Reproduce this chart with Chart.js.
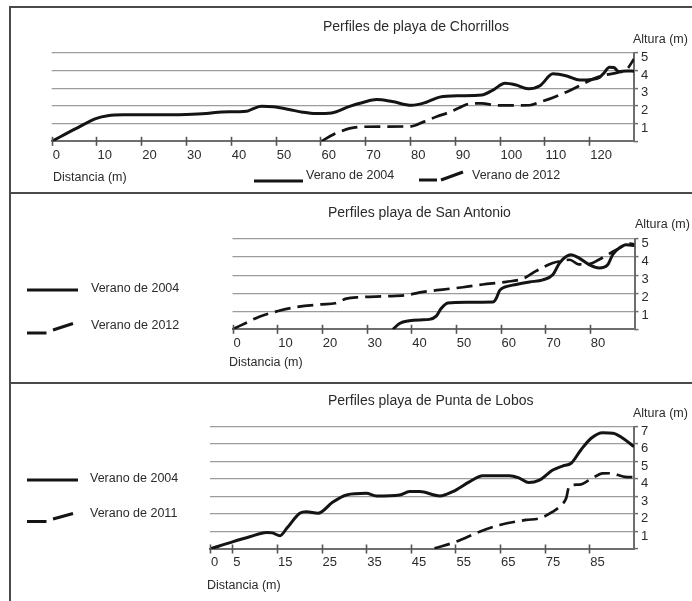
<!DOCTYPE html>
<html>
<head>
<meta charset="utf-8">
<script src="https://cdn.jsdelivr.net/npm/chart.js@4"></script>
<style>
  html, body { margin: 0; padding: 0; background: #fff; }
  body { width: 692px; height: 601px; position: relative; overflow: hidden;
         font-family: "Liberation Sans", Arial, sans-serif; color: #2b2b2b; }
  canvas { position: absolute; left: 0; top: 0; }
  .frame { position: absolute; left: 9px; top: 6px; width: 720px; height: 640px;
           border: 2px solid #4a4a4a; box-sizing: border-box; }
  .rule { position: absolute; left: 9px; width: 700px; height: 2px; background: #4a4a4a; }
  .t { position: absolute; white-space: nowrap; line-height: 16px; font-size: 12.5px; }
  .title { font-size: 14px; }
  svg.keys { position: absolute; left: 0; top: 0; }
</style>
</head>
<body>
<div class="frame"></div>
<div class="rule" style="top:192px"></div>
<div class="rule" style="top:382px"></div>

<canvas id="chorrillos" width="692" height="601"></canvas>
<canvas id="sanAntonio" width="692" height="601"></canvas>
<canvas id="puntaLobos" width="692" height="601"></canvas>

<!-- Chorrillos -->
<div class="t title" style="left:323px;top:18px">Perfiles de playa de Chorrillos</div>
<div class="t" style="left:633px;top:31px">Altura (m)</div>
<div class="t" style="left:53px;top:169px">Distancia (m)</div>
<div class="t" style="left:306px;top:167px">Verano de 2004</div>
<div class="t" style="left:472px;top:167px">Verano de 2012</div>

<!-- San Antonio -->
<div class="t title" style="left:328px;top:204px">Perfiles playa de San Antonio</div>
<div class="t" style="left:635px;top:216px">Altura (m)</div>
<div class="t" style="left:229px;top:354px">Distancia (m)</div>
<div class="t" style="left:91px;top:280px">Verano de 2004</div>
<div class="t" style="left:91px;top:317px">Verano de 2012</div>

<!-- Punta de Lobos -->
<div class="t title" style="left:328px;top:392px">Perfiles playa de Punta de Lobos</div>
<div class="t" style="left:633px;top:405px">Altura (m)</div>
<div class="t" style="left:207px;top:577px">Distancia (m)</div>
<div class="t" style="left:90px;top:470px">Verano de 2004</div>
<div class="t" style="left:90px;top:505px">Verano de 2011</div>

<!-- legend keys -->
<svg class="keys" width="692" height="601">
  <g stroke="#141414" stroke-width="3" fill="none">
    <line x1="254" y1="181" x2="303" y2="181"/>
    <line x1="419" y1="180" x2="437" y2="180"/>
    <line x1="441" y1="180" x2="463" y2="172"/>
    <line x1="27" y1="290" x2="78" y2="290"/>
    <line x1="27" y1="333" x2="46.5" y2="333"/>
    <line x1="53" y1="330" x2="73" y2="323.5"/>
    <line x1="27" y1="480" x2="78" y2="480"/>
    <line x1="27" y1="521.5" x2="46.5" y2="521.5"/>
    <line x1="53" y1="519" x2="73" y2="513.5"/>
  </g>
</svg>

<script>
// ---- Playa de Chorrillos ----
const chorrillosTicksX = [0, 10, 20, 30, 40, 50, 60, 70, 80, 90, 100, 110, 120];
const chorrillosDist2004 = [0, 5.5, 10, 12.5, 16, 22, 30, 34.5, 38, 43.5, 45, 46.8, 49.5, 53, 56, 59, 62.5, 66.5, 69.5, 72.5, 76, 80.3, 83.5, 86.6, 91, 96, 98.5, 101.2, 103.5, 106.4, 109, 111.9, 115, 117.9, 120.5, 122.3, 123.4, 124.5, 125.5, 126.6, 128.3, 130];
const chorrillosAlt2004  = [0, 0.73, 1.3, 1.45, 1.5, 1.5, 1.52, 1.57, 1.66, 1.7, 1.85, 1.98, 1.95, 1.8, 1.65, 1.57, 1.6, 1.98, 2.2, 2.36, 2.25, 2.04, 2.2, 2.5, 2.58, 2.62, 2.9, 3.29, 3.2, 2.98, 3.15, 3.82, 3.7, 3.47, 3.5, 3.62, 3.9, 4.2, 4.18, 3.95, 3.98, 3.97];
const chorrillosDist2012 = [60.2, 63, 64.3, 66.5, 69, 74, 80.3, 83, 86, 88.9, 91, 93.3, 96, 99.3, 103, 106.7, 109, 112, 115.7, 119, 121.5, 123.5, 126.5, 128.3, 130];
const chorrillosAlt2012  = [0, 0.4, 0.54, 0.73, 0.82, 0.83, 0.85, 1.1, 1.4, 1.66, 1.9, 2.13, 2.15, 2.04, 2.03, 2.04, 2.22, 2.48, 2.88, 3.3, 3.6, 3.75, 3.9, 4.05, 4.66];

// ---- Playa de San Antonio ----
const sanAntonioTicksX = [0, 10, 20, 30, 40, 50, 60, 70, 80];
const sanAntonioDist2004 = [35.9, 37.4, 39.6, 42, 44.1, 45.6, 46.7, 48.2, 52.3, 58.3, 59, 59.8, 60.9, 63.5, 66.5, 69.5, 71.7, 73.2, 74.7, 75.8, 77.6, 79.9, 82.1, 84, 85.1, 86.6, 88.1, 90];
const sanAntonioAlt2004  = [0, 0.32, 0.47, 0.52, 0.55, 0.73, 1.15, 1.46, 1.5, 1.51, 1.69, 2.15, 2.33, 2.48, 2.62, 2.74, 3.02, 3.67, 4.03, 4.13, 3.94, 3.57, 3.39, 3.57, 4.13, 4.5, 4.68, 4.64];
const sanAntonioDist2012 = [0, 3, 6, 10, 14, 20, 23, 25.5, 28.5, 34.5, 38.9, 42.7, 47, 51.6, 56, 61.3, 65, 67.9, 71.7, 73.5, 75.5, 77.5, 80, 82, 84.5, 87, 89, 90];
const sanAntonioAlt2012  = [0, 0.35, 0.7, 1.0, 1.22, 1.38, 1.44, 1.7, 1.78, 1.83, 1.89, 2.07, 2.2, 2.33, 2.48, 2.63, 2.8, 3.22, 3.67, 3.78, 3.85, 3.6, 3.62, 3.85, 4.2, 4.55, 4.75, 4.7];

// ---- Playa de Punta de Lobos ----
const puntaLobosTicksX = [0, 5, 15, 25, 35, 45, 55, 65, 75, 85];
const puntaLobosDist2004 = [0, 5.2, 8.9, 12.7, 14, 15.7, 17.2, 20.1, 21.6, 24.2, 27.6, 30.6, 35, 37.3, 42.5, 44.7, 47, 51.5, 54.4, 58.2, 61.1, 67.1, 69.4, 71.4, 73.8, 76.8, 79, 80.9, 83.1, 85.4, 88, 90.3, 92.5, 95];
const puntaLobosAlt2004  = [0, 0.42, 0.7, 0.95, 0.92, 0.76, 1.18, 2.04, 2.13, 2.04, 2.7, 3.09, 3.18, 3.03, 3.09, 3.28, 3.28, 3.03, 3.28, 3.85, 4.19, 4.19, 4.04, 3.8, 3.94, 4.51, 4.74, 4.9, 5.66, 6.33, 6.65, 6.62, 6.33, 5.85];
const puntaLobosDist2011 = [50.3, 55.2, 60.4, 64.9, 70.8, 73.8, 76.8, 78.7, 79.8, 80.5, 82.8, 85, 88, 89.9, 91.4, 93, 95];
const puntaLobosAlt2011  = [0.04, 0.42, 0.99, 1.37, 1.66, 1.75, 2.13, 2.51, 2.9, 3.6, 3.68, 3.94, 4.32, 4.33, 4.23, 4.12, 4.1];

Chart.defaults.font.family = '"Liberation Sans", Arial, sans-serif';
Chart.defaults.color = '#2b2b2b';

const CANVAS_W = 692, CANVAS_H = 601;
const X_AXIS_H = 30, Y_AXIS_W = 30;
const INK = '#141414', AXIS = '#6e6e6e', GRID = '#9c9c9c';

const toPoints = (xs, ys) => xs.map((x, i) => ({ x: x, y: ys[i] }));
const range = n => Array.from({ length: n + 1 }, (_, i) => i);

// tick marks on the distance axis cross the axis line
const crossTicks = {
  id: 'crossTicks',
  afterDraw(chart) {
    const xs = chart.scales.x, ctx = chart.ctx, y0 = chart.chartArea.bottom;
    ctx.save();
    ctx.strokeStyle = '#555';
    ctx.lineWidth = 1.6;
    xs.ticks.forEach(t => {
      const px = Math.round(xs.getPixelForValue(t.value)) + 0.5;
      ctx.beginPath();
      ctx.moveTo(px, y0 - 4.5);
      ctx.lineTo(px, y0 + 4.5);
      ctx.stroke();
    });
    ctx.restore();
  }
};

function profileChart(id, box, xMax, xTicks, yMax, solid, dashed) {
  const yTicks = range(yMax);
  return new Chart(document.getElementById(id), {
    type: 'line',
    data: {
      datasets: [
        { label: solid.label, data: toPoints(solid.dist, solid.alt),
          borderColor: INK, borderWidth: 3 },
        { label: dashed.label, data: toPoints(dashed.dist, dashed.alt),
          borderColor: INK, borderWidth: 2.7, borderDash: [16, 7] }
      ]
    },
    options: {
      responsive: false,
      animation: false,
      events: [],
      layout: { padding: {
        left: box.left, top: box.top,
        right: CANVAS_W - box.right - Y_AXIS_W,
        bottom: CANVAS_H - box.bottom - X_AXIS_H } },
      plugins: { legend: { display: false }, tooltip: { enabled: false }, title: { display: false } },
      elements: {
        point: { radius: 0 },
        line: { cubicInterpolationMode: 'monotone', borderCapStyle: 'butt', borderJoinStyle: 'round', fill: false }
      },
      scales: {
        x: {
          type: 'linear', position: 'bottom', min: 0, max: xMax,
          afterBuildTicks: s => { s.ticks = xTicks.map(v => ({ value: v })); },
          afterFit: s => { s.height = X_AXIS_H; },
          grid: { display: true, drawOnChartArea: false, drawTicks: false },
          border: { display: true, color: AXIS, width: 2 },
          ticks: { align: 'start', padding: 6, labelOffset: 1, autoSkip: false, maxRotation: 0,
                   font: { size: 13 }, color: '#2b2b2b', callback: v => String(v) }
        },
        y: {
          type: 'linear', position: 'right', min: 0, max: yMax,
          afterBuildTicks: s => { s.ticks = yTicks.map(v => ({ value: v })); },
          afterFit: s => { s.width = Y_AXIS_W; },
          grid: { color: c => (c.tick && c.tick.value === 0) ? 'rgba(0,0,0,0)' : GRID,
                  lineWidth: 1.2, tickLength: 4, tickColor: AXIS, tickWidth: 1.5 },
          border: { display: true, color: AXIS, width: 2 },
          ticks: { autoSkip: false, padding: 3, labelOffset: 4.5, font: { size: 13 }, color: '#2b2b2b',
                   callback: v => v === 0 ? '' : String(v) }
        }
      }
    },
    plugins: [crossTicks]
  });
}

profileChart('chorrillos', { left: 51.7, right: 634, top: 53, bottom: 141.3 },
  130, chorrillosTicksX, 5,
  { label: 'Verano de 2004', dist: chorrillosDist2004, alt: chorrillosAlt2004 },
  { label: 'Verano de 2012', dist: chorrillosDist2012, alt: chorrillosAlt2012 });

profileChart('sanAntonio', { left: 232.5, right: 634.5, top: 239, bottom: 329.3 },
  90, sanAntonioTicksX, 5,
  { label: 'Verano de 2004', dist: sanAntonioDist2004, alt: sanAntonioAlt2004 },
  { label: 'Verano de 2012', dist: sanAntonioDist2012, alt: sanAntonioAlt2012 });

profileChart('puntaLobos', { left: 210, right: 634, top: 426.5, bottom: 549 },
  95, puntaLobosTicksX, 7,
  { label: 'Verano de 2004', dist: puntaLobosDist2004, alt: puntaLobosAlt2004 },
  { label: 'Verano de 2011', dist: puntaLobosDist2011, alt: puntaLobosAlt2011 });
</script>
</body>
</html>
